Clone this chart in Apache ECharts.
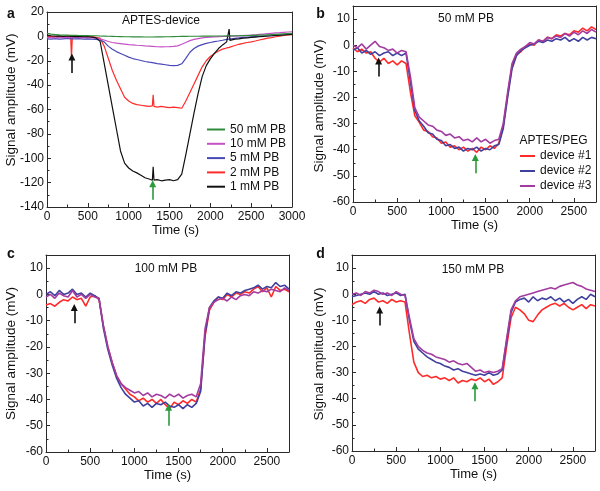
<!DOCTYPE html>
<html><head><meta charset="utf-8">
<script src="https://cdn.jsdelivr.net/npm/echarts@6/dist/echarts.min.js"></script>
<style>html,body{margin:0;padding:0;background:#fff}#c{width:600px;height:491px}</style>
</head><body><div id="c"></div>
<script>
const FONT = "'Liberation Sans', Arial, Helvetica, sans-serif";

// ---------- Panel a: APTES-device (time in s, amplitude in mV) ----------
const TIME_A = [0,50,100,150,200,250,290,300,310,350,400,450,500,550,600,650,700,750,800,850,900,950,1000,1050,1100,1150,1200,1250,1290,1300,1310,1350,1400,1450,1500,1550,1600,1650,1700,1750,1800,1850,1900,1950,2000,2050,2100,2150,2200,2220,2230,2240,2250,2300,2350,2400,2450,2500,2550,2600,2650,2700,2750,2800,2850,2900,2950,3000];
const A_50MM = [2.5,1.8,1.5,1.2,1,1, 0.9,0.8,0.9, 0.8,0.7,0.6,0.6,0.5,0.5,
  0.3,0.2,0.1,0,-0.1,-0.2,-0.3,-0.3,-0.4,-0.4,
  -0.4,-0.5,-0.5,-0.5,-0.5,-0.5,-0.4,-0.4,-0.3,-0.3,
  -0.2,-0.1,0,0,0.1,0.1,0.1,0.2,0.2,0.2,
  0.3,0.3,0.3,0.4,0.4,0.4,0.4,0.4,0.5,0.5,
  0.6,0.7,0.8,0.9,1,1.1,1.3,1.5,1.7,1.9,
  2.1,2.3,2.5];
const A_10MM = [-1,-0.8,-1.2,-0.9,-1,-1.1,-0.8,-1,-1.1,-0.9,-1.2,-1,-1.1,-1.3,-1.5,
  -2,-3,-4.2,-5,-5.6,-6,-6.4,-6.8,-7,-7.3,-7.5,-7.8,-8,-8.2,-8.2,-8.3,-8.5,-8.6,-8.5,-8.4,-8.2,-7.8,-6.5,-5,-3.5,
  -2.5,-1.8,-1.2,-0.9,-0.6,-0.4,-0.2,-0.1,0,0,0.1,0,0.1,0.2,0.4,0.6,0.8,1,1.3,1.6,1.9,2.2,2.5,2.8,3,3.3,3.6,3.8];
const A_5MM = [-2,-2.2,-1.8,-2.3,-2,-1.7, -2,-2.2,-1.9, -2.1,-1.8,-2.2,-2,-2.3,-2.5,
  -3,-4.5,-8,-10.5,-12.5,-14,-15.5,-17,-18.2,-19,-19.8,-20.6,-21.2,-21.6,-21.8,-21.9,-22.3,-22.8,-23.3,-23.8,-24,-23.8,-22.5,-18,-13,
  -10,-8,-6.8,-5.8,-5,-4.3,-3.8,-3.2,-2.5,-2.3,-2.2,-2.1,-2,-1.6,-1.2,-0.9,-0.6,-0.3,-0.1,0,0.2,0.4,0.6,0.9,1.2,1.5,1.8,2];
const A_2MM = [0.3,0,-0.3,0.2,-0.2,0, -0.2,-18,-0.3, 0,-0.3,0.1,-0.4,-0.2,-0.8,
  -1.5,-8,-18,-28,-36,-43,-50,-53,-55,-56,-56.5,-57,-57.5,-57,-48,-57.5,-58,-57.5,-58,-58.5,-58,-58.5,-59,-53,-46,
  -39,-32,-25,-20,-16.5,-14,-12,-10.5,-9.5,-9.2,-9,-8.8,-8.5,-7.5,-6.5,-5.8,-5,-4.5,-3.8,-3,-2.2,-1.5,-1,-0.3,0.2,0.8,1.2,1.5];
const A_1MM = [1,0.5,0.2,0.4,0,0.3, 0,0.2,-0.1, -0.2,0,-0.3,-0.1,-0.6,-1.2,
  -4,-22,-40,-58,-76,-94,-104,-108,-110.5,-112,-114,-116,-117,-118,-107,-118,-117.5,-118.5,-118,-117.5,-118.5,-117.5,-113,-97,-80,
  -63,-47,-33,-24,-18.5,-14,-10,-7,-4.5,-3.8,6,-3.3,-3,-2.3,-2,-1.5,-1.2,-0.9,-0.6,-0.3,0,0.3,0.5,0.8,1,1.2,1.5,1.6];
const NAMES_A = ['50 mM PB','10 mM PB','5 mM PB','2 mM PB','1 mM PB'];

// ---------- Panels b-d: APTES/PEG devices ----------
const TIME_BCD = [0,50,100,150,200,250,300,350,400,450,500,550,600,650,700,750,800,850,900,950,1000,1050,1100,1150,1200,1250,1300,1350,1400,1450,1500,1550,1600,1650,1700,1750,1800,1850,1900,1950,2000,2050,2100,2150,2200,2250,2300,2350,2400,2450,2500,2550,2600,2650,2700,2750];
const NAMES_DEV = ['device #1','device #2','device #3'];
// b: 50 mM PB
const B_DEV1 = [-1,-2.5,-1.5,-3,-2.5,-5,-6.5,-5,-7,-6, -7.5,-6,-7,-18,-27,-29.5,-32.5,-33,-35,-35.5,
  -37.5,-37,-39,-38.5,-40,-39,-40.5,-39.5,-41,-39, -40,-38.5,-39.5,-37.5,-31,-19,-8,-3.5,-2.5,-0.5,
  0.5,0,2,1.5,3,2.5,4,3.5,4.5,4, 5.5,5,6.5,5.5,7,6];
const B_DEV2 = [-2,-1,-3,-2,-3.5,-2.5,-4,-3,-2.5,-4, -3,-4,-3,-14,-25,-29,-31,-33.5,-34,-36,
  -36.5,-38.5,-38,-39.5,-39,-40.5,-39.5,-40,-39,-40.5, -39.5,-40,-38.5,-38,-32,-20,-9,-4,-2,-1,
  0,0.5,1.5,1,2,1.5,2.5,2,3,1.5, 2.5,1.5,3,2,3,2.5];
const B_DEV3 = [0,-1,0.5,-1.5,0,1.5,-0.5,-1,-2,-1.5, -3,-2,-2.5,-12,-24,-27.5,-29,-30.5,-31,-32.5,
  -33,-34.5,-34,-35.5,-35,-36.5,-36,-37,-35.5,-37, -36,-37.5,-36.5,-36,-30,-18,-7,-3,-1.5,-0.5,
  1,0.5,2,1.5,3,2.5,3.5,3,4.5,3.5, 5,4,5.5,4.5,6,5];
// c: 100 mM PB
const C_DEV1 = [-4,-3.5,-4.5,-3,-2,-2.5,-1,-2,-1.5,-4.5, -1,-0.5,-2,-12,-20,-26,-31,-34,-36,-38,
  -39,-40.5,-39.5,-41,-40,-41.5,-40,-42,-43.5,-41, -42,-40.5,-41.5,-40,-41,-36,-16,-6,-3,-1,
  -2,0,-1,0.5,0,1,0.5,2,3,1, 2.5,-1,3,1.5,2,1];
const C_DEV2 = [0,1,-0.5,1.5,0,0.5,2,0,0.5,-1, 0.5,-0.5,-1.5,-13,-21,-27,-32,-35.5,-38,-39.5,
  -41,-40.5,-42.5,-41.5,-43,-41.5,-42,-41,-42.5,-43, -42,-43.5,-42,-43,-41.5,-37,-15,-5,-2.5,-1,
  -1.5,0.5,-0.5,1,0.5,1.5,2,2.5,3.5,2, 3,2.5,4.5,3,3.5,2];
const C_DEV3 = [-1,0,-1.5,0.5,-0.5,-1,1.5,-1,0,-1.5, 0,-1,-1.5,-12,-20,-26,-31,-34,-35.5,-36.5,
  -37.5,-37,-38.5,-37.5,-39,-38,-38.5,-39.5,-38,-39, -38,-39.5,-38.5,-38,-39,-34,-13,-5,-3,-2,
  -1.5,-2.5,-1,-2,-0.5,0,-0.5,1,0.5,1.5, 1,2,1.5,1,2.5,1.5];
// d: 150 mM PB
const D_DEV1 = [-4,-3,-2.5,-3.5,-2,-1.5,-3,-2.5,-3.5,-2, -3,-2.5,-3,-15,-26,-30,-31.5,-31,-32,-31.5,
  -32.5,-32,-33,-32,-34,-33,-33.5,-32.5,-33,-32, -33.5,-32.5,-34.5,-33.5,-32,-20,-9,-5,-6,-7.5,
  -10,-10.5,-8,-6,-5,-4,-3.5,-4.5,-3.5,-5, -6,-5,-4,-5.5,-4,-4.5];
const D_DEV2 = [-1,-0.5,0,0.5,0,1,0,0.5,-0.5,0, 0.5,-0.5,0,-10,-18,-21,-22.5,-24,-25,-26,
  -26.5,-27.5,-28,-29,-28.5,-29.5,-30,-30.5,-31,-30.5, -31,-30,-31,-30.5,-29,-18,-7,-3,-2,-1.5,
  -3,-1,-2.5,-1.5,-2,-1,-2.5,-1.5,-3,-2, -3.5,-2,-1,-2,0,-1];
const D_DEV3 = [0,0.5,-0.5,1,0.5,1.5,1,0,0.5,-0.5, 1,0,-0.5,-9,-17,-20,-21.5,-22.5,-23,-24,
  -24.5,-25,-26,-25.5,-26.5,-27,-26.5,-28,-29.5,-29, -30,-29.5,-30,-29.5,-28.5,-17,-6,-2.5,-1,-0.5,
  0,0.5,1,1.5,2,2.5,2,3,3.5,4, 4.5,3.5,3,2,1.5,1];

// arrows: [time, tail value, head value, colour]
const ARROWS = [
  [[305,-30,-17,'#111'],[1294,-134,-121,'#2a9a3a']],
  [[290,-12,-6,'#111'],[1384,-49,-43,'#2a9a3a']],
  [[320,-11,-5,'#111'],[1387,-50,-43,'#2a9a3a']],
  [[313,-12,-6,'#111'],[1391,-41,-35,'#2a9a3a']]
];

const COL_A = ['#2e8b3a','#c552c5','#4848b8','#ff2a2a','#111111'];
const COL_DEV = ['#ff2a2a','#40409e','#a23ca0'];

const grids = [
  {left:47, top:12, width:245, height:195},
  {left:353, top:6, width:243, height:196},
  {left:46, top:255, width:243, height:197},
  {left:352, top:255, width:243, height:196}
];
const AXC = '#2a2a2a';
const xAxes = [], yAxes = [];
grids.forEach((g, gi) => {
  const isA = gi === 0;
  const xmax = isA ? 3000 : 2750;
  const ymin = isA ? -140 : -60, ymax = isA ? 20 : 15, yint = isA ? 20 : 10;
  xAxes.push({
    type:'value', gridIndex:gi, min:0, max:xmax, interval:500, position:'bottom',
    axisLine:{onZero:false, lineStyle:{color:AXC, width:1}},
    axisTick:{inside:true, length:4, lineStyle:{color:AXC}},
    minorTick:{show:true, splitNumber:2, length:2.5, lineStyle:{color:AXC}},
    splitLine:{show:false}, minorSplitLine:{show:false},
    axisLabel:{fontFamily:FONT, fontSize:12, color:'#111', margin:4,
      formatter: v => (v % 500 === 0 ? String(v) : '')},
    name:'Time (s)', nameLocation:'middle', nameGap:17,
    nameTextStyle:{fontFamily:FONT, fontSize:13, color:'#111', verticalAlign:'top', padding: isA ? [0,0,0,12] : 0}
  });
  xAxes.push({
    type:'value', gridIndex:gi, min:0, max:xmax, position:'top',
    axisLine:{onZero:false, lineStyle:{color:AXC, width:1}}, axisTick:{show:false},
    axisLabel:{show:false}, splitLine:{show:false}
  });
  yAxes.push({
    type:'value', gridIndex:gi, min:ymin, max:ymax, interval:yint, position:'left',
    axisLine:{onZero:false, show:true, lineStyle:{color:AXC, width:1}},
    axisTick:{show:true, inside:true, length:4, lineStyle:{color:AXC}},
    minorTick:{show:true, splitNumber:2, length:2.5, lineStyle:{color:AXC}},
    splitLine:{show:false}, minorSplitLine:{show:false},
    axisLabel:{fontFamily:FONT, fontSize:12, color:'#111', margin:3,
      formatter: v => (v % yint === 0 ? String(v) : '')}
  });
  yAxes.push({
    type:'value', gridIndex:gi, min:ymin, max:ymax, position:'right',
    axisLine:{onZero:false, show:true, lineStyle:{color:AXC, width:1}}, axisTick:{show:false},
    axisLabel:{show:false}, splitLine:{show:false}
  });
});

function mk(name, times, vals, color, gi, width) {
  return {
    name, type:'line', xAxisIndex:2*gi, yAxisIndex:2*gi,
    data: times.map((t, i) => [t, vals[i]]),
    symbol:'none', showSymbol:false, animation:false,
    lineStyle:{color, width}, itemStyle:{color}, emphasis:{disabled:true}
  };
}
function arrowLine(gi) {
  return {
    silent:true, animation:false, symbol:['none','triangle'], symbolSize:7,
    label:{show:false}, emphasis:{disabled:true},
    data: ARROWS[gi].map(a => [
      {coord:[a[0], a[1]], lineStyle:{color:a[3], width:1.6, type:'solid'}, itemStyle:{color:a[3]}},
      {coord:[a[0], a[2]]}
    ])
  };
}

const series = [];
// panel a (draw order: red, blue, magenta, black, green)
const A_VALS = [A_50MM, A_10MM, A_5MM, A_2MM, A_1MM];
[3,2,1,4,0].forEach(k => series.push(mk(NAMES_A[k], TIME_A, A_VALS[k], COL_A[k], 0, 1.2)));
series[series.length-1].markLine = arrowLine(0);
const DEV_SETS = [[B_DEV1,B_DEV2,B_DEV3],[C_DEV1,C_DEV2,C_DEV3],[D_DEV1,D_DEV2,D_DEV3]];
DEV_SETS.forEach((set, j) => {
  set.forEach((vals, k) => series.push(mk(NAMES_DEV[k], TIME_BCD, vals, COL_DEV[k], j+1, 1.6)));
  series[series.length-1].markLine = arrowLine(j+1);
});

function txt(text, x, y, size, opts) {
  return Object.assign({type:'text', x, y, silent:true,
    style:Object.assign({text, fill:'#111', font: size + 'px ' + FONT, textAlign:'center', textVerticalAlign:'middle'}, (opts||{}).style || {})},
    (opts||{}).el || {});
}
const graphics = [
  txt('a', 11, 14, 14, {style:{font:'bold 14px ' + FONT}}),
  txt('b', 320.5, 14, 14, {style:{font:'bold 14px ' + FONT}}),
  txt('c', 11, 254, 14, {style:{font:'bold 14px ' + FONT}}),
  txt('d', 320.5, 254, 14, {style:{font:'bold 14px ' + FONT}}),
  txt('APTES-device', 161, 21, 12),
  txt('50 mM PB', 466, 19, 12),
  txt('100 mM PB', 166, 269, 12),
  txt('150 mM PB', 473, 270, 12),
  txt('APTES/PEG', 553.5, 141, 12),
  txt('Signal amplitude (mV)', 11, 100, 13.5, {el:{rotation:Math.PI/2}}),
  txt('Signal amplitude (mV)', 319, 106, 13.5, {el:{rotation:Math.PI/2}}),
  txt('Signal amplitude (mV)', 11, 353.5, 13.5, {el:{rotation:Math.PI/2}}),
  txt('Signal amplitude (mV)', 319, 354, 13.5, {el:{rotation:Math.PI/2}})
];

const chart = echarts.init(document.getElementById('c'), null, {renderer:'canvas'});
chart.setOption({
  backgroundColor:'#fff',
  animation:false,
  grid: grids,
  xAxis: xAxes,
  yAxis: yAxes,
  legend: [
    {orient:'vertical', left:202, top:118, itemWidth:18, itemHeight:2, itemGap:1.3, selectedMode:false,
     icon:'rect', data: NAMES_A.slice(), textStyle:{fontFamily:FONT, fontSize:12, color:'#111', lineHeight:13}},
    {orient:'vertical', left:515, top:144, itemWidth:15, itemHeight:2, itemGap:1, selectedMode:false,
     icon:'rect', data: NAMES_DEV.slice(), textStyle:{fontFamily:FONT, fontSize:12, color:'#111', lineHeight:14}}
  ],
  graphic: graphics,
  series
});
</script></body></html>
